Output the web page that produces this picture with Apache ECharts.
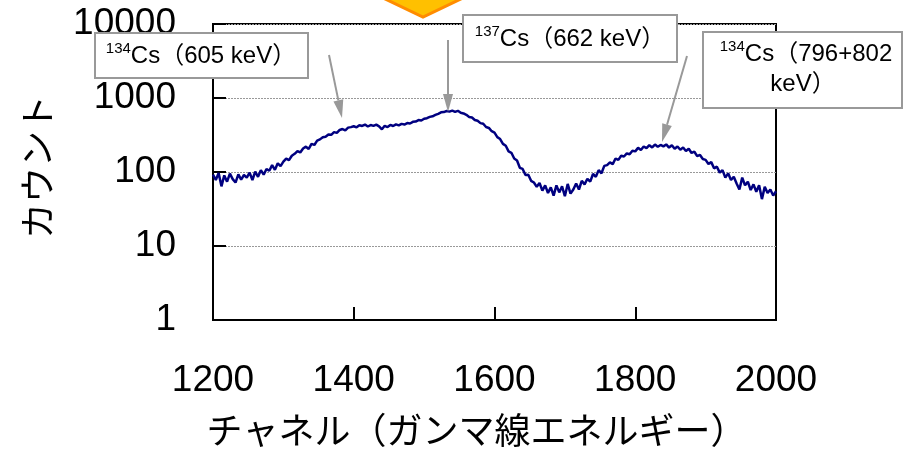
<!DOCTYPE html>
<html>
<head>
<meta charset="utf-8">
<script src="https://cdn.jsdelivr.net/npm/echarts@6/dist/echarts.min.js"></script>
<style>
html,body{margin:0;padding:0;background:#fff;}
#chart{width:904px;height:453px;}
</style>
</head>
<body>
<div id="chart"></div>
<script>
// Channel axis
const channelStart = 1200;
const channelStep = 4;
const xTicks = [1200, 1400, 1600, 1800, 2000];
const yTicks = [1, 10, 100, 1000, 10000];

// Counts per channel (every 4 channels)
const counts = [
  92, 78, 97, 64, 90, 74, 95, 80, 72, 93,
  79, 91, 84, 98, 78, 101, 86, 106, 92, 110,
  104, 124, 107, 131, 120, 138, 152, 145, 166, 176,
  192, 184, 208, 220, 205, 240, 232, 265, 276, 295,
  300, 322, 318, 346, 338, 370, 381, 366, 398, 404,
  415, 401, 428, 419, 438, 412, 431, 420, 436, 414,
  378, 421, 405, 433, 418, 440, 426, 447, 438, 458,
  452, 476, 481, 503, 497, 525, 534, 556, 566, 590,
  612, 640, 646, 668, 655, 676, 650, 671, 632, 618,
  592, 555, 546, 505, 492, 458, 448, 405, 394, 356,
  340, 296, 279, 240, 226, 190, 182, 152, 143, 114,
  110, 91, 92, 76, 72, 63, 71, 56, 66, 52,
  62, 48, 66, 53, 64, 47, 69, 51, 58, 70,
  58, 76, 68, 81, 74, 94, 86, 106, 96, 121,
  124, 135, 128, 152, 146, 166, 162, 178, 174, 194,
  190, 212, 198, 221, 210, 230, 215, 235, 219, 232,
  222, 236, 214, 230, 206, 221, 200, 214, 192, 206,
  181, 188, 164, 170, 150, 146, 128, 136, 112, 118,
  98, 106, 84, 96, 78, 86, 70, 58, 84, 66,
  74, 57, 68, 54, 66, 43, 63, 52, 58, 48,
  55
];

// Annotations
const annotations = [
  { sup: '134', text: 'Cs（605 keV）' },
  { sup: '137', text: 'Cs（662 keV）' },
  { sup: '134', text: 'Cs（796+802', line2: 'keV）' }
];
const xTitle = 'チャネル（ガンマ線エネルギー）';
const yTitle = 'カウント';

const seriesData = counts.map((v, i) => [channelStart + i * channelStep, v]);

const chart = echarts.init(document.getElementById('chart'), null, { renderer: 'canvas' });

const latin = "'Liberation Sans', Arial, 'Noto Sans CJK JP', sans-serif";
const cjk = "'Noto Sans CJK JP', sans-serif";

function arrow(x1, y1, x2, y2) {
  const dx = x2 - x1, dy = y2 - y1;
  const len = Math.sqrt(dx * dx + dy * dy);
  const ux = dx / len, uy = dy / len;
  const hl = 18, hw = 5;
  const bx = x2 - ux * hl, by = y2 - uy * hl;
  return [
    { type: 'line', shape: { x1: x1, y1: y1, x2: bx, y2: by }, style: { stroke: '#999', lineWidth: 2 }, z: 20 },
    { type: 'polygon', shape: { points: [[x2, y2], [bx - uy * hw, by + ux * hw], [bx + uy * hw, by - ux * hw]] }, style: { fill: '#999' }, z: 20 }
  ];
}

const richStyle = {
  s: { fontSize: 15, fontFamily: latin, verticalAlign: 'top', lineHeight: 15, fill: '#000' },
  m: { fontSize: 24, fontFamily: latin, lineHeight: 30, fill: '#000' }
};

const graphics = [
  // orange chevron at top
  { type: 'polygon', shape: { points: [[381, -3], [465, -3], [423, 17]] }, style: { fill: '#FFC000', stroke: '#FF8C00', lineWidth: 3 }, z: 30 },
  // box 1
  { type: 'rect', shape: { x: 95, y: 33, width: 213, height: 45 }, style: { fill: '#fff', stroke: '#999', lineWidth: 2 }, z: 25 },
  { type: 'text', x: 201, y: 56, style: { text: '{s|' + annotations[0].sup + '}{m|' + annotations[0].text + '}', align: 'center', verticalAlign: 'middle', rich: richStyle }, z: 26 },
  // box 2
  { type: 'rect', shape: { x: 463, y: 15, width: 214, height: 47 }, style: { fill: '#fff', stroke: '#999', lineWidth: 2 }, z: 25 },
  { type: 'text', x: 570, y: 39, style: { text: '{s|' + annotations[1].sup + '}{m|' + annotations[1].text + '}', align: 'center', verticalAlign: 'middle', rich: richStyle }, z: 26 },
  // box 3
  { type: 'rect', shape: { x: 703, y: 32, width: 199, height: 76 }, style: { fill: '#fff', stroke: '#999', lineWidth: 2 }, z: 25 },
  { type: 'text', x: 806, y: 54, style: { text: '{s|' + annotations[2].sup + '}{m|' + annotations[2].text + '}', align: 'center', verticalAlign: 'middle', rich: richStyle }, z: 26 },
  { type: 'text', x: 803, y: 84, style: { text: annotations[2].line2, align: 'center', verticalAlign: 'middle', font: "24px 'Liberation Sans', 'Noto Sans CJK JP', sans-serif", fill: '#000' }, z: 26 }
]
  .concat(arrow(329, 55, 342, 118))
  .concat(arrow(448, 40, 448, 112))
  .concat(arrow(687, 56, 662, 142));

chart.setOption({
  animation: false,
  backgroundColor: '#fff',
  grid: { left: 213, top: 24, right: 128, bottom: 131, show: true, borderColor: '#000', borderWidth: 2, backgroundColor: 'transparent' },
  xAxis: {
    type: 'value', min: xTicks[0], max: xTicks[xTicks.length - 1], interval: 200,
    name: xTitle, nameLocation: 'middle', nameGap: 92,
    nameTextStyle: { fontFamily: cjk, fontSize: 36, color: '#000', padding: [0, 36, 0, 0] },
    axisLine: { lineStyle: { color: '#000', width: 2 } },
    axisTick: { inside: true, length: 13, lineStyle: { color: '#000', width: 2 } },
    axisLabel: { margin: 42, fontFamily: latin, fontSize: 37, color: '#000', formatter: v => String(v) },
    splitLine: { show: false }
  },
  yAxis: {
    type: 'log', logBase: 10, min: yTicks[0], max: yTicks[yTicks.length - 1],
    name: yTitle, nameLocation: 'middle', nameRotate: 90, nameGap: 158,
    nameTextStyle: { fontFamily: cjk, fontSize: 36, color: '#000', padding: [0, 0, 0, 10] },
    axisLine: { lineStyle: { color: '#000', width: 2 } },
    axisTick: { inside: true, length: 13, lineStyle: { color: '#000', width: 2 } },
    axisLabel: { margin: 37, fontFamily: latin, fontSize: 37, color: '#000', formatter: v => String(v) },
    splitLine: { show: true, lineStyle: { color: '#999', width: 1, type: [2, 1] } },
    minorTick: { show: false }
  },
  series: [{
    type: 'line', data: seriesData, showSymbol: false, symbol: 'none',
    lineStyle: { color: '#000080', width: 2.5 }, z: 5
  }],
  graphic: graphics
});
</script>
</body>
</html>
